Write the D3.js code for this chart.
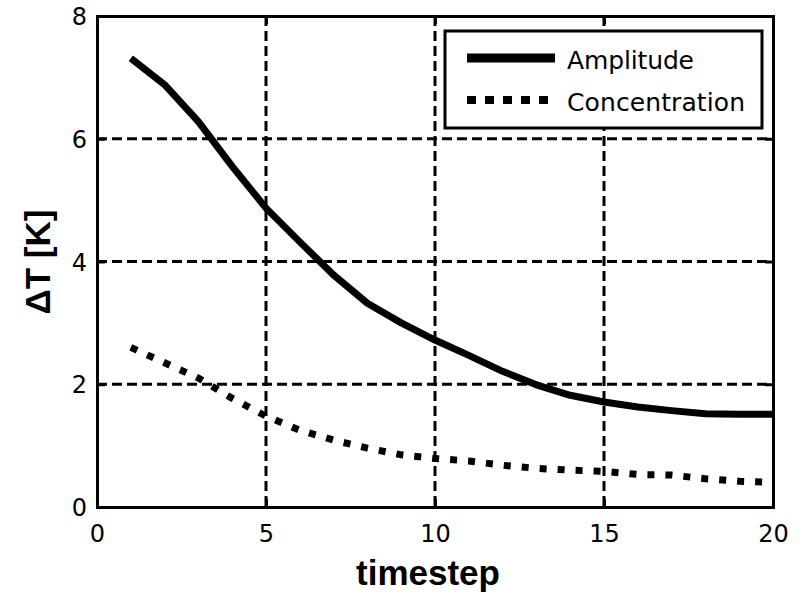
<!DOCTYPE html>
<html>
<head>
<meta charset="utf-8">
<script src="https://cdn.jsdelivr.net/npm/d3@7"></script>
<style>
  body { margin: 0; background: #fff; }
  svg { display: block; }
</style>
</head>
<body>
<svg id="chart" width="803" height="595"></svg>
<script>
const timesteps = [1, 2, 3, 4, 5, 6, 7, 8, 9, 10, 11, 12, 13, 14, 15, 16, 17, 18, 19, 20]
const amplitude = [7.31, 6.88, 6.28, 5.55, 4.87, 4.32, 3.78, 3.32, 3.0, 2.72, 2.47, 2.21, 1.99, 1.82, 1.71, 1.63, 1.57, 1.52, 1.51, 1.51]
const concentration = [2.6, 2.35, 2.1, 1.77, 1.48, 1.25, 1.09, 0.96, 0.85, 0.79, 0.75, 0.68, 0.63, 0.6, 0.58, 0.53, 0.52, 0.46, 0.42, 0.4]
const xTicks = [0, 5, 10, 15, 20]
const yTicks = [0, 2, 4, 6, 8]
const seriesNames = ['Amplitude', 'Concentration']

const plotLeft = 97, plotRight = 773, plotTop = 16, plotBottom = 507

const xScale = d3.scaleLinear().domain([0, 20]).range([plotLeft, plotRight])
const yScale = d3.scaleLinear().domain([0, 8]).range([plotBottom, plotTop])

const svg = d3.select('#chart')

// grid
const grid = svg.append('g')
grid.selectAll('line.vx')
  .data(xTicks.slice(1, -1))
  .enter()
  .append('line')
  .attr('x1', d => xScale(d)).attr('x2', d => xScale(d))
  .attr('y1', plotTop).attr('y2', plotBottom)
grid.selectAll('line.hy')
  .data(yTicks.slice(1, -1))
  .enter()
  .append('line')
  .attr('x1', plotLeft).attr('x2', plotRight)
  .attr('y1', d => yScale(d)).attr('y2', d => yScale(d))
grid.selectAll('line')
  .style('stroke', 'black')
  .style('stroke-width', 3)
  .style('stroke-dasharray', '10,5')

// axes (ticks pointing inward)
const tickFont = g => g.selectAll('text')
  .style('font-family', '"DejaVu Sans", sans-serif')
  .style('font-size', '24px')
  .style('fill', 'black')

const xAxis = svg.append('g')
  .attr('transform', `translate(0, ${plotBottom})`)
  .call(d3.axisBottom(xScale).tickValues(xTicks).tickSize(-8).tickPadding(0))
xAxis.selectAll('text').attr('y', 35).attr('dy', 0)
xAxis.call(tickFont)

const yAxis = svg.append('g')
  .attr('transform', `translate(${plotLeft}, 0)`)
  .call(d3.axisLeft(yScale).tickValues(yTicks).tickSize(-8).tickPadding(0))
yAxis.selectAll('text').attr('x', -10).attr('dy', '0.36em')
yAxis.call(tickFont)

svg.append('g')
  .attr('transform', `translate(0, ${plotTop})`)
  .call(d3.axisTop(xScale).tickValues(xTicks).tickSize(-8).tickFormat(''))
svg.append('g')
  .attr('transform', `translate(${plotRight}, 0)`)
  .call(d3.axisRight(yScale).tickValues(yTicks).tickSize(-8).tickFormat(''))

svg.selectAll('.domain').style('stroke', 'black').style('stroke-width', 3)
svg.selectAll('.tick line').style('stroke', 'black').style('stroke-width', 3)

// lines
const line = d3.line()
  .x((d, i) => xScale(timesteps[i]))
  .y(d => yScale(d))

svg.append('path')
  .datum(amplitude)
  .attr('d', line)
  .style('fill', 'none')
  .style('stroke', 'black')
  .style('stroke-width', 7)
  .style('stroke-linejoin', 'round')

svg.append('path')
  .datum(concentration)
  .attr('d', line)
  .style('fill', 'none')
  .style('stroke', 'black')
  .style('stroke-width', 7)
  .style('stroke-dasharray', '7,11')

// legend
const legend = svg.append('g')
legend.append('rect')
  .attr('x', 445).attr('y', 31)
  .attr('width', 317).attr('height', 97)
  .style('fill', 'white')
  .style('stroke', 'black')
  .style('stroke-width', 3)

const legendRows = [
  { name: seriesNames[0], y: 58, dash: null, width: 9, textLen: 127 },
  { name: seriesNames[1], y: 100, dash: '9,9', width: 8, textLen: 178 }
]
legendRows.forEach(r => {
  legend.append('line')
    .attr('x1', 467).attr('x2', 555)
    .attr('y1', r.y).attr('y2', r.y)
    .style('stroke', 'black')
    .style('stroke-width', r.width)
    .style('stroke-dasharray', r.dash)
  legend.append('text')
    .attr('x', 567).attr('y', r.y + 11)
    .attr('textLength', r.textLen)
    .style('font-family', '"DejaVu Sans", sans-serif')
    .style('font-size', '25px')
    .text(r.name)
})

// axis titles
svg.append('text')
  .attr('x', 428).attr('y', 585)
  .attr('text-anchor', 'middle')
  .style('font-family', '"Liberation Sans", Arial, sans-serif')
  .style('font-weight', 'bold')
  .style('font-size', '35px')
  .text('timestep')

svg.append('text')
  .attr('transform', 'translate(50, 262) rotate(-90)')
  .attr('text-anchor', 'middle')
  .style('font-family', '"Liberation Sans", Arial, sans-serif')
  .style('font-weight', 'bold')
  .style('font-size', '35px')
  .text('ΔT [K]')
</script>
</body>
</html>
